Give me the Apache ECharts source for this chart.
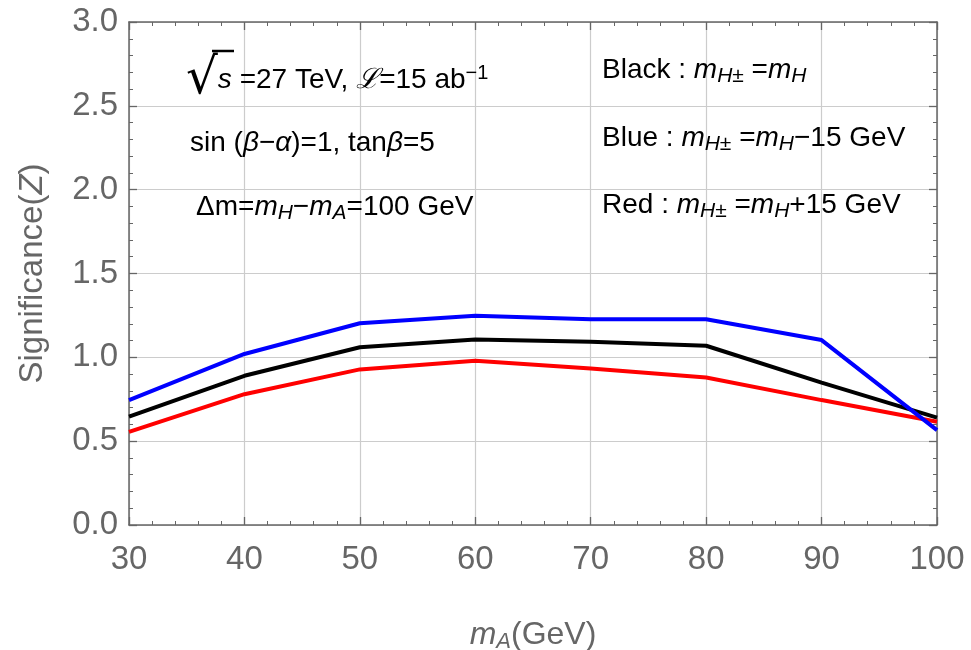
<!DOCTYPE html>
<html><head><meta charset="utf-8">
<script src="https://cdn.jsdelivr.net/npm/echarts/dist/echarts.min.js"></script>
<style>html,body{margin:0;padding:0;background:#fff}#c{width:971px;height:650px}</style>
</head><body><div id="c"></div>
<script>
// ---- data ----
const mA = [30, 40, 50, 60, 70, 80, 90, 100];
const zBlack = [0.646, 0.89, 1.06, 1.107, 1.093, 1.069, 0.849, 0.64];
const zBlue  = [0.745, 1.02, 1.203, 1.248, 1.227, 1.227, 1.103, 0.566];
const zRed   = [0.556, 0.78, 0.928, 0.98, 0.934, 0.88, 0.745, 0.616];
const xRange = [30, 100];
const yRange = [0, 3];
const xStep = 10;
const yStep = 0.5;

const FONT = '"Liberation Sans", Arial, Helvetica, sans-serif';
const GRAY = '#666666';
const FRAME = '#666666';
const GRID = '#cccccc';
const TS = 28; // annotation font size

function pairs(ys) { return mA.map((x, i) => [x, ys[i]]); }

function richFor(color, size) {
  return {
    n:   { fontFamily: FONT, fontSize: size, color: color, lineHeight: 34, verticalAlign: 'middle' },
    it:  { fontFamily: FONT, fontSize: size, color: color, fontStyle: 'italic', lineHeight: 34, verticalAlign: 'middle' },
    sub: { fontFamily: FONT, fontSize: Math.round(size * 0.75), color: color, fontStyle: 'italic', lineHeight: 12, verticalAlign: 'bottom' },
    subn:{ fontFamily: FONT, fontSize: Math.round(size * 0.75), color: color, lineHeight: 12, verticalAlign: 'bottom' },
    sup: { fontFamily: FONT, fontSize: Math.round(size * 0.72), color: color, lineHeight: 14, verticalAlign: 'top' },
    sq:  { fontFamily: '"DejaVu Sans", sans-serif', fontSize: 50, color: color, lineHeight: 34, verticalAlign: 'middle' }
  };
}

function txt(x, y, text, color) {
  return {
    type: 'text', x: x, y: y, z: 100,
    style: { text: text, rich: richFor(color, TS), verticalAlign: 'middle', align: 'left' }
  };
}

const axisCommon = {
  type: 'value',
  axisLine: { show: true, onZero: false, lineStyle: { color: FRAME, width: 1.5 } },
  axisTick: { show: true, inside: true, length: 8, lineStyle: { color: FRAME, width: 1.3 } },
  minorTick: { show: true, splitNumber: 5, length: 4, lineStyle: { color: FRAME, width: 1 } },
  splitLine: { show: false },
  minorSplitLine: { show: false }
};

const chart = echarts.init(document.getElementById('c'), null, { renderer: 'canvas' });
chart.setOption({
  animation: false,
  backgroundColor: '#ffffff',
  grid: { left: 129, right: 34, top: 22, bottom: 125, containLabel: false, outerBoundsMode: 'none' },
  xAxis: [
    Object.assign({}, axisCommon, {
      position: 'bottom', min: xRange[0], max: xRange[1], interval: xStep,
      splitLine: { show: true, lineStyle: { color: GRID, width: 1.2 } },
      axisLabel: { show: true, fontFamily: FONT, fontSize: 33, color: GRAY, margin: 18 },
      name: '{it|m}{sub|A}{n|(GeV)}',
      nameLocation: 'middle', nameGap: 92,
      nameTextStyle: {
        fontFamily: FONT, fontSize: 32, color: GRAY,
        rich: {
          n: { fontFamily: FONT, fontSize: 32, color: GRAY, lineHeight: 36, verticalAlign: 'middle' },
          it: { fontFamily: FONT, fontSize: 32, color: GRAY, fontStyle: 'italic', lineHeight: 36, verticalAlign: 'middle' },
          sub: { fontFamily: FONT, fontSize: 22, color: GRAY, fontStyle: 'italic', lineHeight: 14, verticalAlign: 'bottom' }
        }
      }
    }),
    Object.assign({}, axisCommon, {
      position: 'top', min: xRange[0], max: xRange[1], interval: xStep,
      axisLabel: { show: false }
    })
  ],
  yAxis: [
    Object.assign({}, axisCommon, {
      position: 'left', min: yRange[0], max: yRange[1], interval: yStep,
      splitLine: { show: true, lineStyle: { color: GRID, width: 1.2 } },
      axisLabel: { show: true, fontFamily: FONT, fontSize: 33, color: GRAY, margin: 11,
        formatter: v => v.toFixed(1) },
      name: '{n|Significance(}{it|Z}{n|)}',
      nameLocation: 'middle', nameGap: 80,
      nameTextStyle: {
        fontFamily: FONT, fontSize: 33, color: GRAY,
        rich: {
          n: { fontFamily: FONT, fontSize: 33, color: GRAY },
          it: { fontFamily: FONT, fontSize: 33, color: GRAY, fontStyle: 'italic' }
        }
      }
    }),
    Object.assign({}, axisCommon, {
      position: 'right', min: yRange[0], max: yRange[1], interval: yStep,
      axisLabel: { show: false }
    })
  ],
  series: [
    { name: 'Black', type: 'line', data: pairs(zBlack), showSymbol: false, symbol: 'none',
      lineStyle: { color: '#000000', width: 4 }, itemStyle: { color: '#000000' } },
    { name: 'Red', type: 'line', data: pairs(zRed), showSymbol: false, symbol: 'none',
      lineStyle: { color: '#ff0000', width: 4 }, itemStyle: { color: '#ff0000' } },
    { name: 'Blue', type: 'line', data: pairs(zBlue), showSymbol: false, symbol: 'none',
      lineStyle: { color: '#0000ff', width: 4 }, itemStyle: { color: '#0000ff' } }
  ],
  graphic: [
    txt(186, 80, '{sq|√}{it|s}{n| =27 TeV, }{it|ℒ}{n|=15 ab}{sup|−1}', '#000000'),
    { type: 'line', z: 100, shape: { x1: 212, y1: 51, x2: 234, y2: 51 },
      style: { stroke: '#000000', lineWidth: 2.5 } },
    txt(190, 143, '{n|sin (}{it|β}{n|−}{it|α}{n|)=1, tan}{it|β}{n|=5}', '#000000'),
    txt(196, 207, '{n|Δm=}{it|m}{sub|H}{n|−}{it|m}{sub|A}{n|=100 GeV}', '#000000'),
    txt(602, 70, '{n|Black : }{it|m}{sub|H}{subn|±}{n| =}{it|m}{sub|H}', '#000000'),
    txt(602, 138, '{n|Blue : }{it|m}{sub|H}{subn|±}{n| =}{it|m}{sub|H}{n|−15 GeV}', '#0000ff'),
    txt(602, 205, '{n|Red : }{it|m}{sub|H}{subn|±}{n| =}{it|m}{sub|H}{n|+15 GeV}', '#ff0000')
  ]
});
</script>
</body></html>
